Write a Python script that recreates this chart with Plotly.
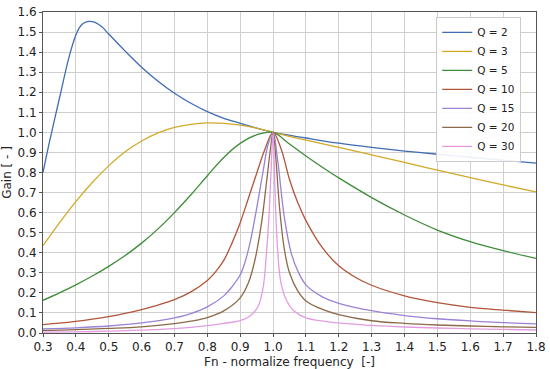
import plotly.graph_objects as go

# ---- data ----
q2_x = [0.3, 0.32, 0.35, 0.38, 0.40, 0.41, 0.42, 0.43, 0.44, 0.45, 0.46, 0.48, 0.5, 0.55, 0.6, 0.65, 0.7, 0.75, 0.8, 0.85, 0.9, 0.95, 1.0,
        1.1, 1.2, 1.3, 1.4, 1.5, 1.6, 1.7, 1.8]
q2_y = [0.80, 0.955, 1.17, 1.38, 1.485, 1.52, 1.54, 1.55, 1.553, 1.552, 1.547, 1.525, 1.49, 1.405, 1.325, 1.255, 1.195, 1.145, 1.103, 1.07, 1.045, 1.021, 1.0,
        0.972, 0.946, 0.925, 0.907, 0.891, 0.876, 0.861, 0.847]

q3_x = [0.3, 0.35, 0.4, 0.45, 0.5, 0.55, 0.6, 0.65, 0.7, 0.75, 0.8, 0.85, 0.9, 0.95, 1.0,
        1.1, 1.2, 1.3, 1.4, 1.5, 1.6, 1.7, 1.8]
q3_y = [0.435, 0.549, 0.655, 0.75, 0.833, 0.903, 0.957, 0.998, 1.025, 1.04, 1.047, 1.045, 1.036, 1.021, 1.0,
        0.961, 0.925, 0.888, 0.85, 0.812, 0.774, 0.738, 0.703]

q5_x = [0.3, 0.35, 0.4, 0.45, 0.5, 0.55, 0.6, 0.65, 0.7, 0.75, 0.8, 0.85, 0.9, 0.95, 1.0,
        1.05, 1.1, 1.15, 1.2, 1.3, 1.4, 1.5, 1.6, 1.7, 1.8]
q5_y = [0.163, 0.20, 0.24, 0.284, 0.332, 0.386, 0.448, 0.519, 0.60, 0.689, 0.784, 0.875, 0.945, 0.988, 1.0,
        0.942, 0.882, 0.826, 0.773, 0.675, 0.588, 0.513, 0.455, 0.41, 0.372]

q10_x = [0.3, 0.35, 0.4, 0.45, 0.5, 0.55, 0.6, 0.65, 0.7, 0.75, 0.8, 0.825, 0.85, 0.875, 0.9, 0.925, 0.95, 0.975, 1.0,
         1.025, 1.05, 1.075, 1.1, 1.15, 1.2, 1.25, 1.3, 1.4, 1.5, 1.6, 1.7, 1.8]
q10_y = [0.042, 0.049, 0.058, 0.069, 0.082, 0.098, 0.117, 0.139, 0.166, 0.205, 0.262, 0.305, 0.362, 0.448, 0.55, 0.672, 0.795, 0.915, 1.0,
         0.915, 0.765, 0.65, 0.56, 0.425, 0.335, 0.278, 0.238, 0.185, 0.151, 0.128, 0.114, 0.102]

q15_x = [0.3, 0.4, 0.5, 0.6, 0.7, 0.75, 0.8, 0.85, 0.875, 0.9, 0.915, 0.93, 0.95, 0.97, 0.985, 1.0,
         1.014, 1.034, 1.055, 1.075, 1.1, 1.15, 1.2, 1.3, 1.4, 1.5, 1.6, 1.7, 1.8]
q15_y = [0.02, 0.026, 0.035, 0.05, 0.075, 0.097, 0.13, 0.185, 0.23, 0.29, 0.355, 0.45, 0.62, 0.81, 0.94, 1.0,
         0.86, 0.58, 0.40, 0.31, 0.24, 0.18, 0.148, 0.111, 0.087, 0.071, 0.06, 0.052, 0.045]

q20_x = [0.3, 0.4, 0.5, 0.6, 0.7, 0.75, 0.8, 0.85, 0.9, 0.925, 0.945, 0.965, 0.98, 0.993, 1.0,
         1.007, 1.02, 1.034, 1.05, 1.075, 1.1, 1.15, 1.2, 1.3, 1.4, 1.5, 1.6, 1.7, 1.8]
q20_y = [0.012, 0.017, 0.023, 0.031, 0.047, 0.059, 0.077, 0.11, 0.175, 0.25, 0.365, 0.55, 0.75, 0.93, 1.0,
         0.90, 0.62, 0.42, 0.30, 0.21, 0.16, 0.118, 0.092, 0.061, 0.048, 0.04, 0.035, 0.031, 0.028]

q30_x = [0.3, 0.4, 0.5, 0.6, 0.7, 0.8, 0.85, 0.9, 0.93, 0.955, 0.97, 0.98, 0.987, 0.994, 1.0,
         1.004, 1.009, 1.016, 1.024, 1.04, 1.065, 1.1, 1.2, 1.3, 1.4, 1.5, 1.6, 1.7, 1.8]
q30_y = [0.004, 0.006, 0.009, 0.014, 0.022, 0.037, 0.048, 0.062, 0.085, 0.135, 0.23, 0.40, 0.565, 0.81, 1.0,
         0.81, 0.565, 0.365, 0.25, 0.166, 0.108, 0.075, 0.05, 0.038, 0.03, 0.025, 0.021, 0.018, 0.015]

series_names = ["Q = 2", "Q = 3", "Q = 5", "Q = 10", "Q = 15", "Q = 20", "Q = 30"]
series_x = [q2_x, q3_x, q5_x, q10_x, q15_x, q20_x, q30_x]
series_y = [q2_y, q3_y, q5_y, q10_y, q15_y, q20_y, q30_y]
colors = ["#3f6cb3", "#d2a928", "#3f8c3a", "#b0553a", "#9a82d6", "#8c6a48", "#e49ce0"]

x_ticks = [round(0.3 + 0.1 * i, 1) for i in range(16)]
y_ticks = [round(0.1 * i, 1) for i in range(17)]

fig = go.Figure()
for name, xs, ys, c in zip(series_names, series_x, series_y, colors):
    fig.add_trace(go.Scatter(x=xs, y=ys, mode="lines", name=name,
                             line=dict(color=c, width=1.3, shape="spline", smoothing=1.0)))

font = dict(family="DejaVu Sans", size=12, color="#222")
axis_common = dict(showgrid=True, gridcolor="#d0d0d0", gridwidth=1, zeroline=False,
                   showline=True, linecolor="#555", linewidth=1, mirror=True,
                   ticks="outside", ticklen=3, tickcolor="#555", tickfont=font,
                   automargin=False)

fig.update_layout(
    width=550, height=369,
    margin=dict(l=43, r=14, t=12, b=36),
    paper_bgcolor="white", plot_bgcolor="white",
    font=font,
    xaxis=dict(range=[0.3, 1.8], tickvals=x_ticks, ticktext=[f"{v:.1f}" for v in x_ticks],
               title=dict(text="Fn - normalize frequency\u00a0\u00a0[-]", font=font),
               **axis_common),
    yaxis=dict(range=[0, 1.6], tickvals=y_ticks, ticktext=[f"{v:.1f}" for v in y_ticks],
               title=dict(text="Gain [ - ]", font=font),
               **axis_common),
    legend=dict(x=0.97, y=0.985, xanchor="right", yanchor="top",
                bgcolor="rgba(255,255,255,0.9)", bordercolor="#cccccc", borderwidth=1,
                font=dict(family="DejaVu Sans", size=10.5, color="#222"),
                tracegroupgap=0, itemwidth=30),
    showlegend=True,
)

fig.write_html("out.html", config={"displayModeBar": False},
               post_script="document.body.style.margin='0';document.body.style.padding='0';")
